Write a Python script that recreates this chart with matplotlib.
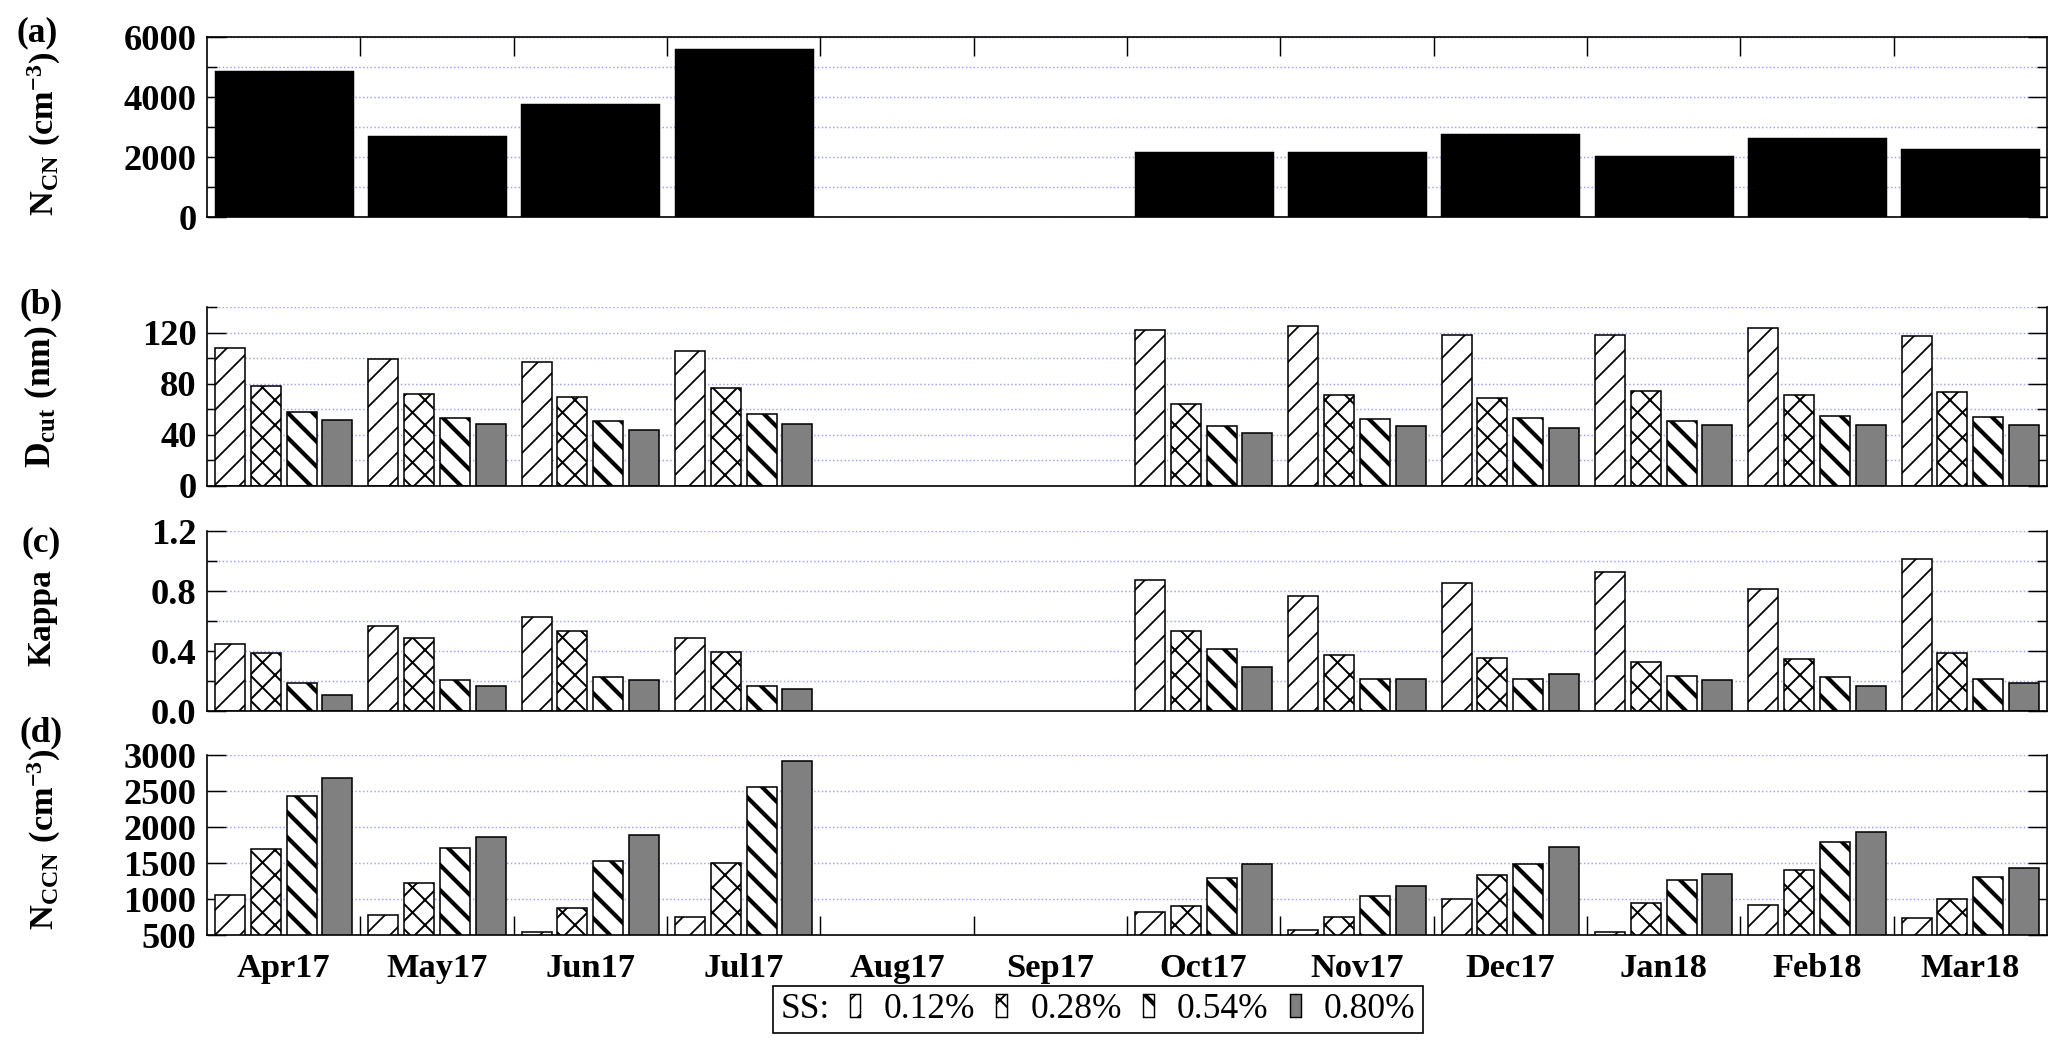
import numpy as np
import matplotlib
matplotlib.use('Agg')
import matplotlib.pyplot as plt
from matplotlib.patches import Patch
from matplotlib.ticker import MultipleLocator, FixedLocator, FormatStrFormatter
from matplotlib.offsetbox import HPacker

nan = np.nan

# ---------------- data ----------------
months = ['Apr17', 'May17', 'Jun17', 'Jul17', 'Aug17', 'Sep17',
          'Oct17', 'Nov17', 'Dec17', 'Jan18', 'Feb18', 'Mar18']
ss_levels = ['0.12%', '0.28%', '0.54%', '0.80%']

ncn = [4870, 2710, 3760, 5610, nan, nan, 2180, 2180, 2760, 2030, 2630, 2260]

dcut_012 = [108, 99, 97, 105.5, nan, nan, 122, 125.5, 118, 118, 123.5, 117]
dcut_028 = [78.5, 72, 70, 77, nan, nan, 64.5, 71.5, 68.5, 74.5, 71, 73.5]
dcut_054 = [58, 53.5, 51, 56, nan, nan, 47, 52.5, 53, 51, 54.5, 54]
dcut_080 = [52, 48.5, 44, 48.5, nan, nan, 41.5, 47, 45, 47.5, 48, 48]

kappa_012 = [0.445, 0.565, 0.625, 0.485, nan, nan, 0.875, 0.765, 0.855, 0.925, 0.815, 1.015]
kappa_028 = [0.385, 0.485, 0.535, 0.395, nan, nan, 0.535, 0.375, 0.355, 0.325, 0.345, 0.385]
kappa_054 = [0.185, 0.205, 0.225, 0.165, nan, nan, 0.415, 0.215, 0.215, 0.235, 0.225, 0.215]
kappa_080 = [0.105, 0.165, 0.205, 0.145, nan, nan, 0.295, 0.215, 0.245, 0.205, 0.165, 0.185]

nccn_012 = [1050, 775, 540, 745, nan, nan, 825, 575, 1000, 545, 920, 735]
nccn_028 = [1695, 1220, 875, 1495, nan, nan, 900, 750, 1335, 950, 1405, 1000]
nccn_054 = [2430, 1705, 1530, 2550, nan, nan, 1295, 1035, 1480, 1270, 1795, 1305]
nccn_080 = [2675, 1860, 1890, 2920, nan, nan, 1490, 1175, 1720, 1345, 1935, 1430]

# ---------------- style ----------------
plt.rcParams.update({
    'font.family': ['Liberation Serif', 'DejaVu Serif'],
    'font.weight': 'bold',
    'mathtext.fontset': 'custom',
    'mathtext.rm': 'Liberation Serif:bold',
    'mathtext.bf': 'Liberation Serif:bold',
    'mathtext.it': 'Liberation Serif:bold',
    'hatch.linewidth': 0.8,
    'hatch.color': 'black',
})

styles = [
    dict(fc='white', hatch='//', hlw=0.85),
    dict(fc='white', hatch='xx', hlw=0.95),
    dict(fc='white', hatch='\\\\', hlw=2.0),
    dict(fc='#808080', hatch=None, hlw=0.8),
]
offsets = [-0.35, -0.1167, 0.1167, 0.35]
bar_w = 0.196

W, H, DPI = 2067, 1052, 150
fig = plt.figure(figsize=(W / DPI, H / DPI), dpi=DPI)

left_px, right_px = 207, 2047
panel_px = {'a': (37, 217), 'b': (307, 486), 'c': (531, 711), 'd': (755, 935)}
axes = {}
for k, (t, b) in panel_px.items():
    axes[k] = fig.add_axes([left_px / W, 1 - b / H, (right_px - left_px) / W, (b - t) / H])

x = np.arange(len(months))
grid_color = '#a0a0ee'


def set_hlw(artist, lw):
    if hasattr(artist, 'set_hatch_linewidth'):
        artist.set_hatch_linewidth(lw)


def grouped(ax, series):
    for i, (vals, st) in enumerate(zip(series, styles)):
        with plt.rc_context({'hatch.linewidth': st['hlw']}):
            bars = ax.bar(x + offsets[i], vals, width=bar_w, facecolor=st['fc'],
                          edgecolor='black', linewidth=0.75, hatch=st['hatch'], zorder=2)
        for bb in bars:
            set_hlw(bb, st['hlw'])


# panel a
axa = axes['a']
axa.bar(x, ncn, width=0.9, color='black', edgecolor='black', linewidth=0.7, zorder=2)
grouped(axes['b'], [dcut_012, dcut_028, dcut_054, dcut_080])
grouped(axes['c'], [kappa_012, kappa_028, kappa_054, kappa_080])
grouped(axes['d'], [nccn_012, nccn_028, nccn_054, nccn_080])

ylims = {'a': (0, 6000), 'b': (0, 140), 'c': (0, 1.2), 'd': (500, 3000)}
majors = {'a': 2000, 'b': 40, 'c': 0.4, 'd': 500}
minors = {'a': 1000, 'b': 20, 'c': 0.2, 'd': 500}

for k, ax in axes.items():
    ax.set_xlim(-0.5, 11.5)
    ax.set_ylim(*ylims[k])
    ax.set_axisbelow(True)
    ax.yaxis.set_major_locator(MultipleLocator(majors[k]))
    ax.yaxis.set_minor_locator(MultipleLocator(minors[k]))
    for s in ax.spines.values():
        s.set_linewidth(0.8)
    ax.tick_params(axis='y', which='both', direction='in', left=True, right=True,
                   labelsize=17.5, pad=5, width=0.7)
    ax.tick_params(axis='y', which='major', length=9)
    ax.tick_params(axis='y', which='minor', length=4.8)
    ax.grid(axis='y', which='both', color=grid_color, linestyle=(0, (1, 1.6)), linewidth=0.7)
    ax.set_xticks(x)
    ax.xaxis.set_minor_locator(FixedLocator(np.arange(0.5, 11, 1.0)))
    if k != 'a':
        ax.spines['top'].set_visible(False)

axes['c'].yaxis.set_major_formatter(FormatStrFormatter('%.1f'))

# x ticks
axa.tick_params(axis='x', which='major', bottom=False, top=False, labelbottom=False)
axa.tick_params(axis='x', which='minor', bottom=False, top=True, direction='in', length=9, width=0.7)
for k in ('b', 'c'):
    axes[k].tick_params(axis='x', which='both', bottom=False, top=False, labelbottom=False)
axd = axes['d']
axd.set_xticklabels(months)
axd.tick_params(axis='x', which='major', length=0, labelsize=16.5, pad=8.5)
axd.tick_params(axis='x', which='minor', bottom=True, top=False, direction='in', length=9, width=0.7)
# panel d: no gridline on the top (3000) tick
axd.yaxis.get_gridlines()[-1].set_visible(False)

# y labels  (text, x centre, y centre in axes fraction, size)
ylabels = {
    'a': (r'$\mathbf{N_{CN}\ (cm^{-3})}$', -0.0885, 0.46, 16.5),
    'b': (r'$\mathbf{D_{cut}\ (nm)}$', -0.090, 0.5, 17),
    'c': ('Kappa', -0.0897, 0.52, 16),
    'd': (r'$\mathbf{N_{CCN}\ (cm^{-3})}$', -0.0885, 0.53, 16.5),
}
for k, (lab, xc, yc, fs) in ylabels.items():
    axes[k].set_ylabel(lab, fontsize=fs, fontweight='bold', va='center')
    axes[k].yaxis.set_label_coords(xc, yc)

# panel letters
for lab, xpx, ypx in (('(a)', 37, 33), ('(b)', 41, 305), ('(c)', 41, 543), ('(d)', 41, 733)):
    fig.text(xpx / W, 1 - ypx / H, lab, fontsize=17, fontweight='bold', ha='center', va='center')

# legend
handles = [Patch(facecolor=st['fc'], edgecolor='black', hatch=st['hatch'], linewidth=0.7)
           for st in styles]
legfont = {'family': 'Liberation Serif', 'weight': 'normal', 'size': 17}
leg = fig.legend(handles, ss_levels, title='SS:', ncol=4, loc='center',
                 bbox_to_anchor=(1098 / W, 1 - 1009.5 / H),
                 prop=legfont, title_fontproperties=legfont,
                 handlelength=0.3, handleheight=0.6, handletextpad=0.66,
                 columnspacing=0.6, borderpad=0.2, fancybox=False, frameon=True,
                 edgecolor='black', framealpha=1)
leg.get_frame().set_linewidth(0.8)
for h, st in zip(leg.legend_handles, styles):
    set_hlw(h, st['hlw'])
try:
    old = leg._legend_box
    kids = old.get_children()
    newbox = HPacker(pad=old.pad, sep=9.6, align='center', children=kids)
    newbox.set_figure(fig)
    newbox.axes = leg.axes
    newbox.set_offset(leg._findoffset)
    leg._legend_box = newbox
except Exception:
    pass

fig.savefig('out.png', dpi=DPI)
